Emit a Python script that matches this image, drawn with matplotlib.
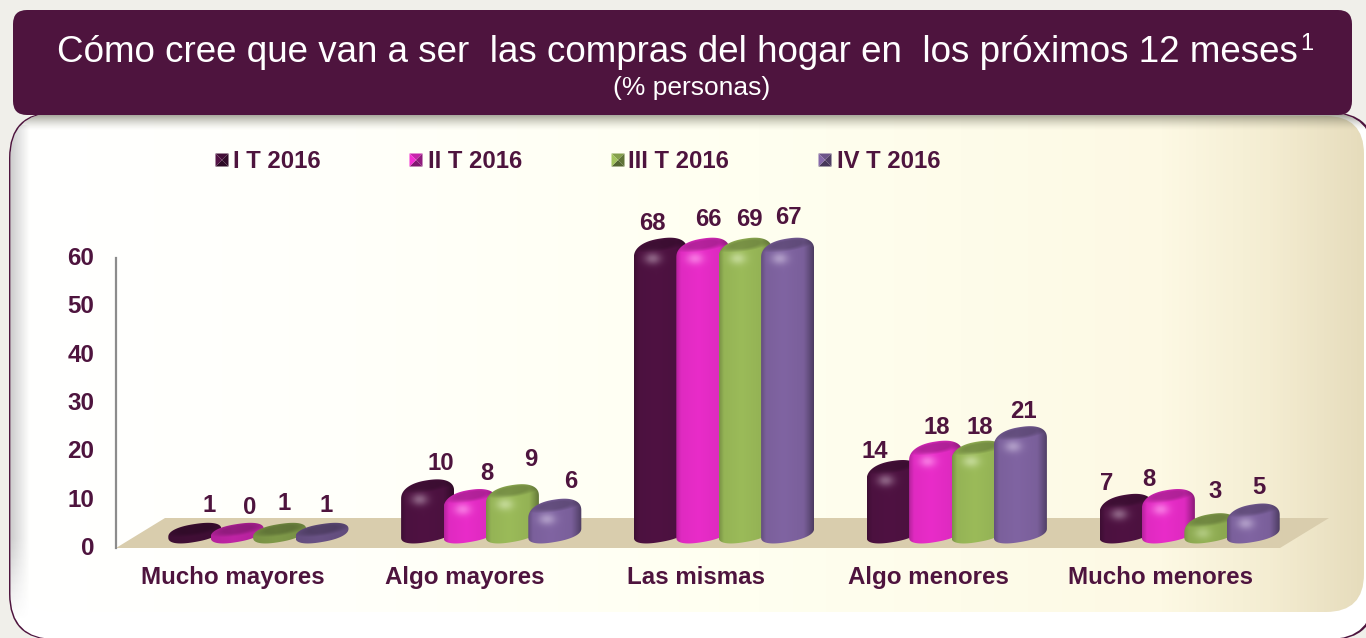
"""Compras del hogar en los proximos 12 meses: columnas 3D por trimestre."""

import matplotlib
matplotlib.use("Agg")
import matplotlib.pyplot as plt
import numpy as np
from matplotlib.patches import FancyBboxPatch, PathPatch, Polygon
from matplotlib.path import Path
from matplotlib.transforms import ScaledTranslation

plt.rcParams["font.family"] = ["Liberation Sans", "DejaVu Sans"]

CATEGORIES = ["Mucho mayores", "Algo mayores", "Las mismas", "Algo menores", "Mucho menores"]
SERIES = ["I T 2016", "II T 2016", "III T 2016", "IV T 2016"]
T1 = [1, 10, 68, 14, 7]
T2 = [0, 8, 66, 18, 8]
T3 = [1, 9, 69, 18, 3]
T4 = [1, 6, 67, 21, 5]
Y_TICKS = [0, 10, 20, 30, 40, 50, 60]
TITLE = "Cómo cree que van a ser  las compras del hogar en  los próximos 12 meses"
SUBTITLE = "(% personas)"

COLORS = ["#4F1242", "#E92CC9", "#9BBB59", "#8064A2"]
INK = "#4E143E"
W, H = 1366, 638
YMAX = 60

# geometria en pixeles de la imagen
AX_L, AX_R, AX_T, AX_B = 116, 1280, 258, 548
PX_X = 5 / (AX_R - AX_L)          # unidades de categoria por pixel
PX_Y = YMAX / (AX_B - AX_T)       # unidades de valor por pixel
BAR_W, BAR_STEP = 53, 42.4
DEPTH_X, DEPTH_Y = 49, 30
BAR_DX = 26                       # desplazamiento de la columna hacia el fondo
BAR_BASE = 15                     # centro de la elipse inferior sobre el eje
TOP_EXTRA = 20                    # la cupula sobresale esto por encima del valor
ELL_B, ELL_K = 9.0, 4.5
DOME_K, DOME_H = 4.0, 15.5
ROUND = 0.85                      # exponente de la superelipse

LEG_MARK = [222, 416, 618, 825]
LEG_TEXT = [233, 428, 628, 837]
# centros de los rotulos de valor, en pixeles, por serie
LABEL_X = [[209, 441, 652, 875, 1107], [250, 487, 708, 937, 1149],
           [284, 531, 749, 980, 1215], [326, 571, 788, 1023, 1259]]
LABEL_Y = [[506, 464, 223, 451, 484], [508, 474, 219, 427, 480],
           [504, 460, 219, 427, 492], [506, 482, 218, 411, 488]]


def background(fig):
    bg = fig.add_axes([0, 0, 1, 1], zorder=0)
    bg.axis("off")
    bg.add_patch(plt.Rectangle((0, 0), W, H, color="#F0EFEA", zorder=0))

    rim = FancyBboxPatch((9, 112), W + 1, H - 110, boxstyle="round,pad=0,rounding_size=46",
                         fc="#4E143E", ec="none", zorder=1)
    bg.add_patch(rim)
    white = FancyBboxPatch((10.5, 113), W - 3, H - 112, boxstyle="round,pad=0,rounding_size=45",
                           fc="#FFFFFF", ec="none", zorder=2)
    bg.add_patch(white)
    inner = FancyBboxPatch((20, 116), W - 22, H - 142, boxstyle="round,pad=0,rounding_size=38",
                           fc="none", ec="none", zorder=3)
    bg.add_patch(inner)

    # degradado del panel, de blanco a crema y a tostado en el borde derecho
    xs = np.array([0, 0.25, 0.55, 0.85, 0.93, 1.0])
    cols = np.array([[255, 255, 255], [255, 255, 250], [255, 255, 240],
                     [253, 249, 228], [244, 237, 210], [230, 220, 188]]) / 255
    t = np.linspace(0, 1, 400)
    grad = np.stack([np.interp(t, xs, cols[:, k]) for k in range(3)], axis=-1)[None, :, :]
    im = bg.imshow(grad, extent=(20, W - 2, H - 26, 116), aspect="auto", zorder=3)
    im.set_clip_path(inner)

    # sombra bajo la cabecera
    shadow = np.zeros((30, 1, 4))
    shadow[:, :, :3] = [0.38, 0.38, 0.30]
    shadow[:, :, 3] = np.linspace(0.75, 0, 30)[:, None] ** 1.5
    im = bg.imshow(shadow, extent=(9, W, 131, 113), aspect="auto", zorder=4)
    im.set_clip_path(white)

    # biselado gris a la izquierda, se apaga hacia la esquina
    bevel = np.zeros((60, 30, 4))
    bevel[:, :, :3] = 0.55
    fade = np.clip(np.linspace(6, 0, 60), 0, 1)[:, None]
    bevel[:, :, 3] = fade * np.linspace(0.45, 0, 30)[None, :]
    im = bg.imshow(bevel, extent=(10, 30, 625, 125), aspect="auto", zorder=4)
    im.set_clip_path(white)

    header = FancyBboxPatch((13, 10), 1339, 105, boxstyle="round,pad=0,rounding_size=14",
                            fc="#4E143E", ec="none", zorder=5)
    bg.add_patch(header)

    bg.set_xlim(0, W)
    bg.set_ylim(H, 0)

    title = bg.text(57, 52, TITLE, color="white", fontsize=26.45, va="center", ha="left", zorder=6)
    fig.canvas.draw()
    ext = title.get_window_extent()
    bg.text(ext.x1 + 2, 44, "1", color="white", fontsize=17, va="center", ha="left", zorder=6)
    bg.text(692, 88, SUBTITLE, color="white", fontsize=19, va="center", ha="center", zorder=6)

    # leyenda
    for name, col, mx, tx in zip(SERIES, COLORS, LEG_MARK, LEG_TEXT):
        legend_marker(bg, mx, 160, col)
        bg.text(tx, 161, name, color=INK, fontsize=17.2, fontweight="bold", va="center", ha="left", zorder=6)
    return bg


def legend_marker(bg, x, y, col):
    c = np.array(matplotlib.colors.to_rgb(col))
    s = 6.5
    tri = [((x - s, y - s), (x + s, y - s), 0.85), ((x + s, y - s), (x + s, y + s), 0.62),
           ((x + s, y + s), (x - s, y + s), 0.55), ((x - s, y + s), (x - s, y - s), 1.05)]
    for a, b, f in tri:
        bg.add_patch(Polygon([a, b, (x, y)], fc=np.clip(c * f, 0, 1), ec="none", zorder=6))


def floor(ax):
    pts = [(-0.5, 0), (4.5, 0), (4.5 + DEPTH_X * PX_X, DEPTH_Y * PX_Y), (-0.5 + DEPTH_X * PX_X, DEPTH_Y * PX_Y)]
    ax.add_patch(Polygon(pts, fc="#D9CDAD", ec="none", zorder=1, clip_on=False))


def spow(v):
    return np.sign(v) * np.abs(v) ** ROUND


def bar3d(ax, cat, k, value, col, z):
    # las columnas se cortan en el maximo del eje; las muy bajas quedan en disco
    h = min(max(value, 1), YMAX)
    strength = np.clip((value - 1) / 3, 0, 1)
    cx = cat + (k - 1.5) * BAR_STEP * PX_X + BAR_DX * PX_X
    a = BAR_W / 2 * PX_X
    yb = BAR_BASE * PX_Y
    top = h + TOP_EXTRA * PX_Y
    yc = max(top - DOME_H * PX_Y, yb)
    b_bot, k_bot = ELL_B * PX_Y, ELL_K * PX_Y
    k_top = DOME_K * PX_Y
    b_top = np.sqrt(max((top - yc) ** 2 - k_top ** 2, 1e-6))

    # contorno: cupula arriba y media superelipse abajo
    t_up = np.linspace(np.pi, 0, 60)
    t_dn = np.linspace(0, -np.pi, 60)
    xs = np.r_[cx + a * spow(np.cos(t_up)), cx + a * spow(np.cos(t_dn))]
    ys = np.r_[yc + b_top * spow(np.sin(t_up)) + k_top * spow(np.cos(t_up)),
               yb + b_bot * spow(np.sin(t_dn)) + k_bot * spow(np.cos(t_dn))]
    outline = Path(np.c_[xs, ys], closed=False)
    patch = PathPatch(outline, fc="none", ec="none", transform=ax.transData, zorder=z)
    ax.add_patch(patch)

    # sombreado en una malla de pixeles
    y_lo, y_hi = yb - 13 * PX_Y, top + 3 * PX_Y
    ny = max(int((y_hi - y_lo) / PX_Y), 8)
    nx = 60
    u = np.linspace(-1, 1, nx)[None, :]
    yy = np.linspace(y_hi, y_lo, ny)[:, None]
    shade = 1.0 - 0.06 * np.abs(u + 0.15) - strength * 1.0 * np.clip(u - 0.6, 0, 1) ** 1.2
    shade = shade - strength * 0.9 * np.clip(-0.82 - u, 0, 1)
    # tapa superior mas oscura
    vcap = (yy - (top - 6 * PX_Y + k_top * u)) / (6 * PX_Y)
    capmask = np.clip(1.3 - (u ** 2 * 1.1 + vcap ** 2), 0, 1)
    disc = 1 - strength
    shade = shade * (1 - 0.22 * capmask) * (1 - 0.18 * disc)
    rgb = np.array(matplotlib.colors.to_rgb(col))
    img = np.clip(rgb[None, None, :] * shade[:, :, None], 0, 1)
    # brillo bajo la tapa
    dist = ((u + 0.3) / 0.32) ** 2 + ((yy - (top - 20 * PX_Y)) / (6 * PX_Y)) ** 2
    glow = (0.65 * strength * np.exp(-dist))[:, :, None]
    img = img * (1 - glow) + glow * np.clip(rgb * 0.55 + 0.5, 0, 1)
    im = ax.imshow(img, extent=(cx - a, cx + a, y_lo, y_hi), aspect="auto", zorder=z, interpolation="bilinear")
    # las columnas sobresalen del eje: se recortan solo con su contorno
    im.set_clip_box(ax.figure.bbox)
    im.set_clip_path(patch)


def main() -> None:
    fig = plt.figure(figsize=(W / 100, H / 100), dpi=100)
    bg = background(fig)

    ax = fig.add_axes([AX_L / W, 1 - AX_B / H, (AX_R - AX_L) / W, (AX_B - AX_T) / H], zorder=2)
    ax.patch.set_alpha(0)
    floor(ax)

    labels = [T1, T2, T3, T4]
    for k, (vals, col) in enumerate(zip(labels, COLORS)):
        for cat, v in enumerate(vals):
            bar3d(ax, cat, k, v, col, 3 + k)

    # rotulos de valor
    for labs, lx, ly in zip(labels, LABEL_X, LABEL_Y):
        for lab, x, y in zip(labs, lx, ly):
            ax.text(x, y, str(lab), color=INK, fontsize=17.2, fontweight="bold", ha="center", va="center",
                    transform=bg.transData, zorder=10, clip_on=False)

    ax.set_xlim(-0.5, 4.5)
    ax.set_ylim(0, YMAX)
    ax.set_xticks(np.arange(len(CATEGORIES)) * 0.9966)
    ax.set_xticklabels(CATEGORIES, color=INK, fontsize=17.35, fontweight="bold")
    ax.set_yticks(Y_TICKS)
    ax.set_yticklabels(Y_TICKS, color=INK, fontsize=17.35, fontweight="bold")
    ax.tick_params(axis="y", length=0, pad=15.7)
    ax.tick_params(axis="x", length=0, pad=12.7)
    up = ScaledTranslation(0, 2 / 100, fig.dpi_scale_trans)
    for lab in ax.get_yticklabels():
        lab.set_transform(lab.get_transform() + up)
    for side in ["top", "right", "bottom"]:
        ax.spines[side].set_visible(False)
    ax.spines["left"].set_color("#8C8C8C")
    ax.spines["left"].set_linewidth(1.6)

    fig.savefig("out.png", dpi=100)


if __name__ == "__main__":
    main()
